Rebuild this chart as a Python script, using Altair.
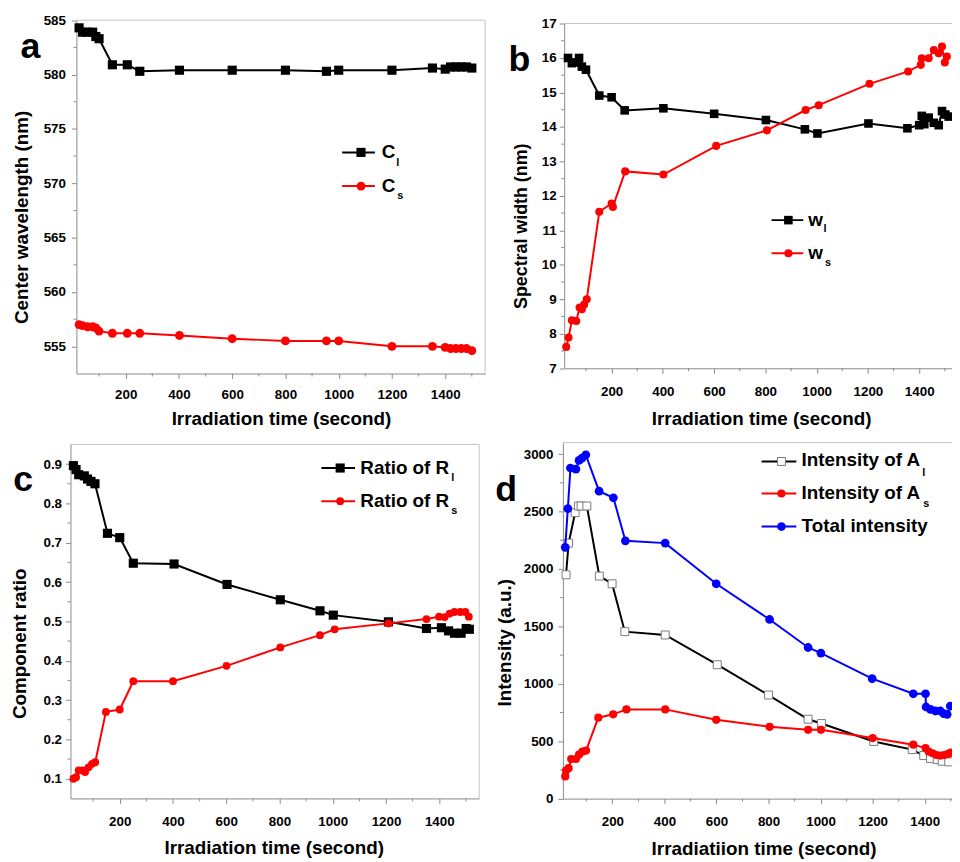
import altair as alt
import pandas as pd

FONT = "Liberation Sans"
AXC = "#8a8a8a"
FRAME = "#c4c4c4"
BLACK = "#000000"
RED = "#ff0000"
BLUE = "#0000ff"
VIEW_W, VIEW_H = 952, 854

# ---------------- data ----------------
# panel a: center wavelength
time_a = [25, 38, 57, 76, 88, 100, 150, 206, 253, 402, 600, 800, 954, 1000, 1200, 1352, 1400, 1420, 1440, 1460, 1480, 1500]
center_l = [584.3, 583.9, 583.9, 583.9, 583.5, 583.3, 580.9, 580.9, 580.3, 580.4, 580.4, 580.4, 580.3, 580.4, 580.4, 580.6, 580.5, 580.7, 580.7, 580.7, 580.7, 580.6]
center_s = [557.0, 556.9, 556.8, 556.8, 556.7, 556.4, 556.2, 556.2, 556.2, 556.0, 555.7, 555.5, 555.5, 555.5, 555.0, 555.0, 554.9, 554.8, 554.8, 554.8, 554.8, 554.6]

# panel b: spectral width
time_b_l = [30, 45, 58, 73, 84, 100, 152, 200, 251, 402, 600, 802, 954, 1003, 1202, 1354, 1400, 1410, 1420, 1437, 1457, 1476, 1489, 1502, 1515]
width_l = [16.0, 15.85, 15.87, 16.0, 15.75, 15.66, 14.91, 14.86, 14.48, 14.54, 14.38, 14.2, 13.93, 13.81, 14.1, 13.96, 14.05, 14.32, 14.08, 14.27, 14.12, 14.05, 14.46, 14.36, 14.3]
time_b_s = [23, 32, 45, 62, 75, 84, 93, 103, 152, 200, 205, 253, 402, 608, 806, 957, 1008, 1206, 1357, 1406, 1410, 1437, 1457, 1476, 1489, 1500, 1508]
width_s = [7.62, 7.89, 8.39, 8.37, 8.76, 8.71, 8.85, 9.0, 11.54, 11.78, 11.68, 12.71, 12.62, 13.45, 13.9, 14.49, 14.63, 15.25, 15.61, 15.8, 15.99, 15.99, 16.23, 16.14, 16.33, 15.87, 16.04]

# panel c: component ratio
time_c_l = [26, 36, 46, 67, 79, 92, 107, 154, 200, 251, 404, 603, 803, 952, 1002, 1209, 1352, 1408, 1435, 1457, 1482, 1501, 1513]
ratio_l = [0.896, 0.886, 0.873, 0.870, 0.862, 0.856, 0.850, 0.724, 0.713, 0.648, 0.646, 0.594, 0.555, 0.527, 0.516, 0.499, 0.482, 0.484, 0.476, 0.470, 0.470, 0.482, 0.480]
time_c_s = [26, 36, 46, 61, 70, 83, 96, 108, 148, 200, 251, 400, 601, 803, 952, 1007, 1209, 1352, 1399, 1420, 1439, 1457, 1479, 1498, 1511]
ratio_s = [0.100, 0.104, 0.121, 0.121, 0.117, 0.129, 0.138, 0.142, 0.270, 0.276, 0.348, 0.348, 0.387, 0.434, 0.465, 0.480, 0.495, 0.506, 0.512, 0.511, 0.520, 0.524, 0.524, 0.524, 0.512]

# panel d: intensity
time_d_l = [22, 32, 57, 70, 80, 102, 150, 199, 248, 403, 603, 800, 952, 1003, 1204, 1352, 1396, 1422, 1448, 1467, 1492]
intensity_l = [1949, 2225, 2490, 2548, 2548, 2548, 1938, 1871, 1454, 1425, 1166, 902, 691, 654, 498, 427, 375, 350, 340, 325, 320]
time_d_s = [19, 22, 32, 42, 60, 72, 85, 99, 146, 203, 254, 403, 599, 804, 952, 1001, 1200, 1356, 1403, 1415, 1430, 1445, 1460, 1475, 1490, 1500]
intensity_s = [193, 245, 265, 345, 345, 383, 409, 418, 705, 734, 777, 777, 686, 625, 599, 599, 527, 470, 440, 410, 395, 380, 375, 380, 390, 400]
time_d_t = [19, 29, 39, 60, 72, 83, 98, 149, 204, 250, 403, 599, 804, 952, 1001, 1198, 1356, 1403, 1405, 1422, 1441, 1460, 1473, 1486, 1498]
intensity_t = [2188, 2525, 2879, 2870, 2945, 2965, 2994, 2677, 2620, 2245, 2225, 1871, 1560, 1316, 1267, 1045, 913, 913, 798, 777, 763, 763, 740, 734, 806]

# ticks
x_major = [200, 400, 600, 800, 1000, 1200, 1400]
x_minor = [100, 300, 500, 700, 900, 1100, 1300, 1500]
a_major = [555, 560, 565, 570, 575, 580, 585]
a_minor = [557.5, 562.5, 567.5, 572.5, 577.5, 582.5]
b_major = [7, 8, 9, 10, 11, 12, 13, 14, 15, 16, 17]
b_minor = [7.5, 8.5, 9.5, 10.5, 11.5, 12.5, 13.5, 14.5, 15.5, 16.5]
c_major = [0.1, 0.2, 0.3, 0.4, 0.5, 0.6, 0.7, 0.8, 0.9]
c_minor = [0.15, 0.25, 0.35, 0.45, 0.55, 0.65, 0.75, 0.85]
d_major = [0, 500, 1000, 1500, 2000, 2500, 3000]
d_minor = [250, 750, 1250, 1750, 2250, 2750]


def dummy():
    return alt.Chart(pd.DataFrame({"k": [0]}))


def point_mark(chart, kind, color, size):
    if kind == "open":
        return chart.mark_point(shape="square", filled=True, fill="white", stroke="#7a7a7a",
                                strokeWidth=1, size=size, opacity=1)
    return chart.mark_point(shape=kind, filled=True, color=color, size=size, opacity=1)


def text_at(text, x, y, size):
    return dummy().mark_text(text=text, font=FONT, fontSize=size, fontWeight="bold", color="black",
                             align="left", baseline="alphabetic").encode(x=alt.value(x), y=alt.value(y))


def legend_layers(item):
    d = dummy()
    out = [
        d.mark_rule(color=item["color"], strokeWidth=2).encode(
            x=alt.value(item["x1"]), x2=alt.value(item["x2"]), y=alt.value(item["yl"])),
        point_mark(d, item["kind"], item["color"], item["size"]).encode(
            x=alt.value(item["xm"]), y=alt.value(item["yl"])),
        text_at(item["text"], item["tx"], item["ty"], 19),
    ]
    if item.get("sub"):
        out.append(text_at(item["sub"], item["sx"], item["sy"], 11))
    return out


def make_panel(P):
    x0, x1 = P["xr"]
    yb, yt = P["yr"]
    xs = alt.Scale(domain=P["xdom"], range=P["xr"], nice=False, zero=False)
    ys = alt.Scale(domain=P["ydom"], range=P["yr"], nice=False, zero=False)
    common = dict(labelFont=FONT, labelFontSize=13.5, labelFontWeight="bold", labelColor="black",
                  titleFont=FONT, titleFontWeight="bold", titleColor="black",
                  domainColor=AXC, tickColor=AXC, tickSize=5, grid=False, labelOverlap=False,
                  labelFlush=False, titleAlign="center", titleBaseline="alphabetic")
    xaxis = alt.Axis(orient="bottom", offset=yb - VIEW_H, values=x_major, format="d",
                     title=P["xtitle"], labelPadding=P["xlp"], titleFontSize=19,
                     titleX=P["xt"][0], titleY=P["xt"][1], **common)
    yaxis = alt.Axis(orient="left", offset=-x0, values=P["ymajor"], format=P["yfmt"],
                     title=P["ytitle"], labelPadding=P["ylp"], titleFontSize=P["ytfs"],
                     titleX=P["yt"][0], titleY=P["yt"][1], titleAngle=270, **common)
    layers = [
        alt.Chart(pd.DataFrame({"t": x_minor})).mark_rule(color=AXC, strokeWidth=1).encode(
            x=alt.X("t:Q", scale=xs, axis=xaxis), y=alt.value(yb), y2=alt.value(yb + 3)),
        alt.Chart(pd.DataFrame({"v": P["yminor"]})).mark_rule(color=AXC, strokeWidth=1).encode(
            y=alt.Y("v:Q", scale=ys, axis=yaxis), x=alt.value(x0), x2=alt.value(x0 - 3)),
        dummy().mark_rule(color=FRAME, strokeWidth=1).encode(
            x=alt.value(x0), x2=alt.value(x1), y=alt.value(yt)),
        dummy().mark_rule(color=FRAME, strokeWidth=1).encode(
            x=alt.value(x1), y=alt.value(yt), y2=alt.value(yb)),
    ]
    for t, v, color, kind, size in P["series"]:
        df = pd.DataFrame({"t": t, "v": v, "i": list(range(len(t)))})
        enc = dict(x=alt.X("t:Q", scale=xs, axis=xaxis), y=alt.Y("v:Q", scale=ys, axis=yaxis))
        layers.append(alt.Chart(df).mark_line(color=color, strokeWidth=2).encode(order="i:Q", **enc))
        layers.append(point_mark(alt.Chart(df), kind, color, size).encode(**enc))
    for item in P["legend"]:
        layers += legend_layers(item)
    layers.append(text_at(P["letter"], P["lpos"][0], P["lpos"][1], 36))
    return alt.layer(*layers)


panel_a = dict(
    xdom=[15, 1550], xr=[69, 481.2], ydom=[552.5, 585], yr=[365, 8.7],
    ymajor=a_major, yminor=a_minor, yfmt="d",
    ytitle="Center wavelength (nm)", xtitle="Irradiation time (second)", ytfs=19,
    yt=(-49, 207), xt=(275.3, 51.6), xlp=9, ylp=6,
    series=[(time_a, center_l, BLACK, "square", 85), (time_a, center_s, RED, "circle", 80)],
    letter="a", lpos=(12.7, 47),
    legend=[dict(color=BLACK, kind="square", size=85, x1=337, x2=370, xm=356, yl=142, text="C",
                 tx=377, ty=148, sub="l", sx=391.5, sy=156),
            dict(color=RED, kind="circle", size=80, x1=337, x2=370, xm=356, yl=176, text="C",
                 tx=377, ty=182, sub="s", sx=392.5, sy=189)])

panel_b = dict(
    xdom=[15, 1550], xr=[560.9, 957.7], ydom=[7, 17], yr=[359.7, 12],
    ymajor=b_major, yminor=b_minor, yfmt="d",
    ytitle="Spectral width (nm)", xtitle="Irradiation time (second)", ytfs=18,
    yt=(-38, 216), xt=(759.5, 57), xlp=11, ylp=3,
    series=[(time_b_l, width_l, BLACK, "square", 75), (time_b_s, width_s, RED, "circle", 66)],
    letter="b", lpos=(504.7, 60.3),
    legend=[dict(color=BLACK, kind="square", size=75, x1=770, x2=802, xm=787, yl=210.3, text="w",
                 tx=807, ty=216, sub="l", sx=822.5, sy=222.7),
            dict(color=RED, kind="circle", size=66, x1=770, x2=802, xm=787, yl=243.7, text="w",
                 tx=807, ty=249.3, sub="s", sx=824, sy=257)])

panel_c = dict(
    xdom=[15, 1550], xr=[63, 475.2], ydom=[0.05, 0.95], yr=[793.5, 436.5],
    ymajor=c_major, yminor=c_minor, yfmt=".1f",
    ytitle="Component ratio", xtitle="Irradiation time (second)", ytfs=19,
    yt=(-45, 637), xt=(268, 55.5), xlp=11, ylp=4,
    series=[(time_c_l, ratio_l, BLACK, "square", 85), (time_c_s, ratio_s, RED, "circle", 62)],
    letter="c", lpos=(5.3, 483.7),
    legend=[dict(color=BLACK, kind="square", size=85, x1=316, x2=350, xm=335, yl=460.3, text="Ratio of R",
                 tx=355.3, ty=466, sub="l", sx=447, sy=473.7),
            dict(color=RED, kind="circle", size=62, x1=316, x2=350, xm=335, yl=493.7, text="Ratio of R",
                 tx=355.3, ty=499.3, sub="s", sx=447, sy=507)])

panel_d = dict(
    xdom=[10, 1550], xr=[559.6, 963.9], ydom=[0, 3100], yr=[793.7, 434.7],
    ymajor=d_major, yminor=d_minor, yfmt="d",
    ytitle="Intensity (a.u.)", xtitle="Irradiatiion time (second)", ytfs=19,
    yt=(-52.6, 636), xt=(762, 56.3), xlp=11, ylp=5,
    series=[(time_d_l, intensity_l, BLACK, "open", 64), (time_d_s, intensity_s, RED, "circle", 68),
            (time_d_t, intensity_t, BLUE, "circle", 78)],
    letter="d", lpos=(491.3, 493.7),
    legend=[dict(color=BLACK, kind="open", size=64, x1=760, x2=795, xm=780, yl=453.7, text="Intensity of A",
                 tx=800.3, ty=458.7, sub="l", sx=922, sy=468),
            dict(color=RED, kind="circle", size=68, x1=760, x2=795, xm=780, yl=486, text="Intensity of A",
                 tx=800.3, ty=492, sub="s", sx=923, sy=499.3),
            dict(color=BLUE, kind="circle", size=78, x1=760, x2=795, xm=780, yl=519.3, text="Total intensity",
                 tx=800.3, ty=525.3)])

chart = alt.layer(
    make_panel(panel_a), make_panel(panel_b), make_panel(panel_c), make_panel(panel_d)
).resolve_scale(x="independent", y="independent").properties(
    width=VIEW_W, height=VIEW_H, padding=0, autosize=alt.AutoSizeParams(type="none")
).configure(background="white").configure_view(stroke="transparent")

chart.save("out.html", embed_options={"renderer": "svg", "actions": False})
